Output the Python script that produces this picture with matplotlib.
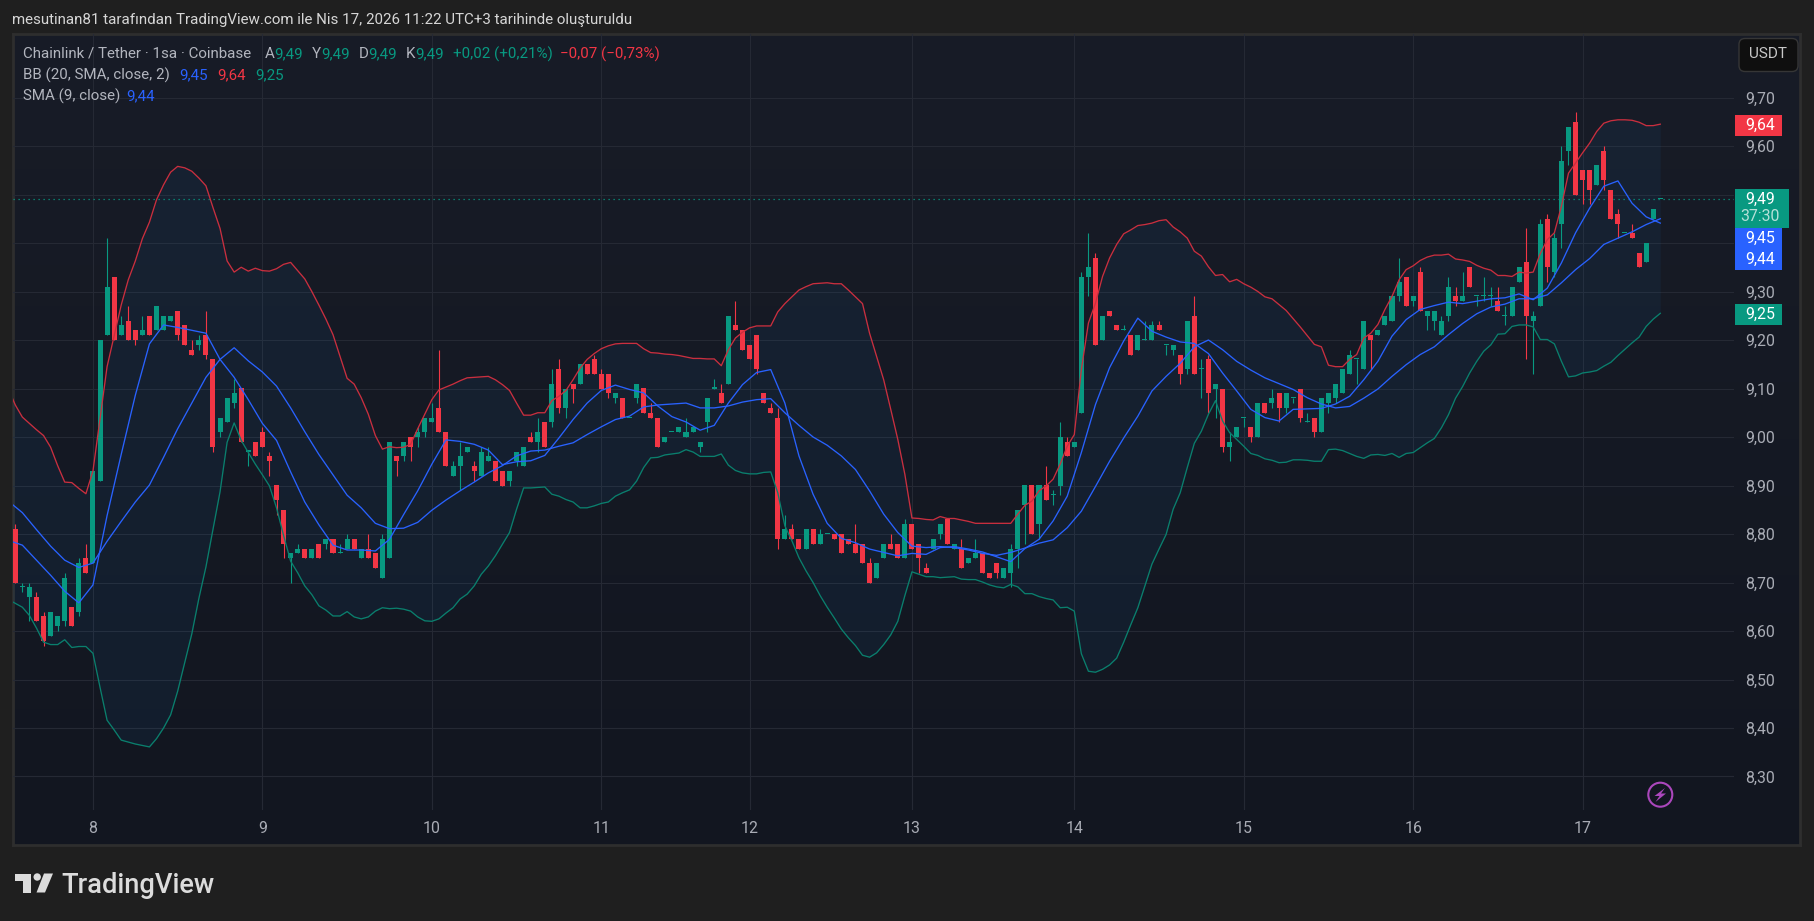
import numpy as np
from matplotlib import pyplot as plt
from matplotlib.patches import Rectangle, FancyBboxPatch, Circle, Polygon
from matplotlib.ticker import FuncFormatter

# hourly candles, LINK/USDT
opens = [8.81,8.69,8.67,8.67,8.63,8.59,8.61,8.62,8.65,8.64,
	8.75,8.74,8.91,9.21,9.33,9.21,9.24,9.22,9.21,9.25,
	9.22,9.22,9.24,9.26,9.23,9.18,9.19,9.21,9.16,9.01,
	9.03,9.07,9.10,8.97,8.99,9.01,8.96,8.90,8.85,8.75,
	8.76,8.77,8.75,8.78,8.78,8.79,8.76,8.77,8.79,8.75,
	8.77,8.76,8.71,8.75,8.96,8.96,9.00,9.00,9.01,9.03,
	9.06,9.01,8.92,8.94,8.97,8.94,8.92,8.95,8.95,8.93,
	8.91,8.95,8.94,9.00,8.99,9.03,9.03,9.14,9.06,9.11,
	9.11,9.15,9.16,9.13,9.13,9.08,9.08,9.04,9.08,9.10,
	9.05,9.04,8.99,9.01,9.01,9.00,9.01,8.98,9.03,9.10,
	9.09,9.11,9.23,9.22,9.19,9.21,9.09,9.06,9.04,8.79,
	8.81,8.79,8.77,8.81,8.78,8.80,8.80,8.80,8.79,8.78,
	8.78,8.74,8.71,8.75,8.78,8.78,8.75,8.82,8.78,8.73,
	8.77,8.80,8.83,8.77,8.77,8.74,8.75,8.76,8.72,8.74,
	8.71,8.72,8.77,8.86,8.90,8.82,8.90,8.88,8.90,8.99,
	8.98,9.05,9.33,9.37,9.20,9.26,9.23,9.22,9.21,9.18,
	9.20,9.20,9.23,9.19,9.18,9.17,9.14,9.25,9.14,9.16,
	9.10,9.10,8.98,9.00,9.04,9.02,9.00,9.07,9.07,9.09,
	9.06,9.08,9.10,9.03,9.04,9.01,9.07,9.08,9.09,9.13,
	9.16,9.14,9.21,9.21,9.23,9.24,9.29,9.33,9.28,9.34,
	9.25,9.24,9.21,9.25,9.29,9.28,9.35,9.29,9.29,9.29,
	9.28,9.25,9.25,9.32,9.36,9.24,9.27,9.45,9.34,9.44,
	9.59,9.65,9.55,9.55,9.52,9.59,9.51,9.46,9.42,9.42,
	9.38,9.36,9.45,9.49]
highs = [8.82,8.70,8.70,8.68,8.64,8.64,8.63,8.72,8.65,8.75,
	8.78,8.93,9.20,9.41,9.33,9.25,9.27,9.22,9.25,9.25,
	9.27,9.25,9.25,9.26,9.23,9.20,9.21,9.26,9.16,9.04,
	9.08,9.12,9.10,8.97,8.99,9.02,8.97,8.90,8.85,8.76,
	8.78,8.77,8.77,8.78,8.79,8.79,8.78,8.80,8.79,8.77,
	8.80,8.76,8.80,8.99,8.96,8.99,9.00,9.02,9.04,9.07,
	9.18,9.01,8.95,8.99,8.98,8.95,8.98,8.98,8.95,8.93,
	8.93,8.97,8.98,9.01,9.04,9.03,9.14,9.16,9.10,9.11,
	9.15,9.15,9.17,9.14,9.13,9.09,9.08,9.04,9.11,9.10,
	9.07,9.04,9.00,9.01,9.02,9.04,9.02,8.99,9.08,9.12,
	9.11,9.25,9.28,9.22,9.19,9.21,9.09,9.07,9.06,8.84,
	8.82,8.79,8.81,8.81,8.81,8.80,8.80,8.80,8.79,8.82,
	8.78,8.75,8.74,8.78,8.80,8.78,8.83,8.82,8.78,8.74,
	8.79,8.82,8.83,8.78,8.79,8.75,8.79,8.76,8.72,8.74,
	8.73,8.78,8.85,8.90,8.90,8.90,8.94,8.89,9.03,9.00,
	8.99,9.34,9.42,9.38,9.25,9.26,9.23,9.23,9.21,9.21,
	9.24,9.24,9.24,9.19,9.19,9.17,9.24,9.29,9.16,9.17,
	9.11,9.10,9.01,9.02,9.04,9.02,9.07,9.07,9.10,9.09,
	9.09,9.08,9.10,9.05,9.04,9.08,9.09,9.11,9.14,9.18,
	9.16,9.24,9.21,9.22,9.25,9.29,9.37,9.33,9.29,9.35,
	9.26,9.26,9.25,9.33,9.31,9.34,9.35,9.29,9.33,9.31,
	9.31,9.27,9.31,9.35,9.43,9.26,9.45,9.46,9.42,9.60,
	9.64,9.67,9.55,9.55,9.56,9.60,9.51,9.47,9.42,9.44,
	9.38,9.40,9.47,9.49]
lows = [8.70,8.68,8.62,8.62,8.57,8.59,8.60,8.61,8.61,8.63,
	8.72,8.74,8.91,9.21,9.20,9.21,9.20,9.19,9.21,9.21,
	9.22,9.22,9.24,9.20,9.19,9.17,9.18,9.16,8.97,9.00,
	9.03,9.06,8.99,8.94,8.96,8.98,8.92,8.84,8.75,8.70,
	8.76,8.75,8.75,8.75,8.77,8.76,8.76,8.77,8.77,8.75,
	8.75,8.73,8.71,8.75,8.92,8.95,8.95,8.98,9.00,9.03,
	9.01,8.94,8.92,8.89,8.97,8.91,8.92,8.95,8.91,8.90,
	8.90,8.94,8.94,8.99,8.97,8.98,9.02,9.05,9.04,9.07,
	9.11,9.13,9.13,9.10,9.08,9.07,9.04,9.04,9.07,9.05,
	9.04,8.98,8.99,9.01,9.01,9.00,9.01,8.97,9.01,9.10,
	9.07,9.11,9.22,9.18,9.16,9.13,9.07,9.05,8.77,8.79,
	8.79,8.77,8.77,8.78,8.78,8.80,8.79,8.76,8.78,8.76,
	8.74,8.70,8.71,8.75,8.77,8.75,8.75,8.77,8.72,8.72,
	8.77,8.79,8.78,8.77,8.73,8.74,8.75,8.72,8.71,8.71,
	8.71,8.69,8.73,8.78,8.80,8.79,8.87,8.86,8.88,8.96,
	8.98,9.05,9.29,9.19,9.20,9.25,9.22,9.22,9.17,9.18,
	9.20,9.20,9.22,9.17,9.17,9.11,9.13,9.13,9.08,9.05,
	9.04,8.97,8.95,9.00,9.02,8.99,9.00,9.05,9.06,9.03,
	9.05,9.07,9.03,9.03,9.00,9.01,9.05,9.07,9.09,9.13,
	9.11,9.14,9.14,9.21,9.23,9.24,9.28,9.27,9.27,9.26,
	9.22,9.22,9.21,9.24,9.27,9.28,9.31,9.27,9.28,9.27,
	9.26,9.23,9.25,9.32,9.16,9.13,9.27,9.32,9.33,9.39,
	9.56,9.50,9.48,9.48,9.52,9.51,9.45,9.41,9.42,9.41,
	9.35,9.36,9.45,9.49]
closes = [8.70,8.69,8.69,8.62,8.58,8.64,8.63,8.71,8.61,8.74,
	8.72,8.93,9.20,9.31,9.20,9.23,9.20,9.20,9.22,9.21,
	9.27,9.25,9.25,9.21,9.19,9.17,9.20,9.17,8.98,9.04,
	9.08,9.09,8.99,8.97,8.96,8.98,8.95,8.87,8.78,8.76,
	8.77,8.75,8.77,8.75,8.79,8.76,8.76,8.79,8.77,8.77,
	8.75,8.73,8.79,8.99,8.95,8.99,8.98,9.01,9.04,9.04,
	9.01,8.94,8.94,8.96,8.98,8.93,8.97,8.96,8.91,8.90,
	8.93,8.97,8.98,8.99,9.01,8.98,9.11,9.06,9.10,9.10,
	9.15,9.13,9.13,9.10,9.09,9.09,9.04,9.04,9.11,9.05,
	9.04,8.98,9.00,9.01,9.02,9.01,9.02,8.99,9.08,9.10,
	9.07,9.25,9.22,9.18,9.16,9.14,9.07,9.05,8.79,8.81,
	8.79,8.77,8.81,8.78,8.80,8.80,8.79,8.76,8.78,8.76,
	8.74,8.70,8.74,8.78,8.77,8.75,8.82,8.77,8.75,8.72,
	8.79,8.82,8.78,8.78,8.73,8.75,8.76,8.72,8.71,8.72,
	8.73,8.77,8.85,8.90,8.80,8.90,8.87,8.88,9.00,8.96,
	8.99,9.33,9.35,9.19,9.25,9.25,9.22,9.22,9.17,9.21,
	9.20,9.23,9.22,9.19,9.19,9.13,9.24,9.13,9.14,9.09,
	9.11,8.98,8.99,9.02,9.04,9.00,9.07,9.05,9.08,9.06,
	9.09,9.08,9.04,9.03,9.01,9.08,9.09,9.11,9.14,9.17,
	9.16,9.24,9.20,9.22,9.25,9.29,9.32,9.27,9.29,9.26,
	9.26,9.26,9.24,9.31,9.28,9.29,9.31,9.29,9.29,9.29,
	9.26,9.25,9.31,9.35,9.25,9.25,9.44,9.35,9.41,9.57,
	9.64,9.50,9.53,9.51,9.56,9.53,9.45,9.44,9.42,9.41,
	9.35,9.40,9.47,9.49]

# Bollinger upper / lower, one value per candle starting one candle left of the pane
bb_upper = [9.100,9.066,9.041,9.028,9.015,9.003,8.979,8.941,8.907,8.906,
	8.894,8.883,8.930,9.037,9.145,9.208,9.272,9.324,9.363,9.409,
	9.443,9.489,9.520,9.546,9.558,9.555,9.548,9.534,9.518,9.473,
	9.430,9.363,9.340,9.350,9.342,9.348,9.343,9.342,9.347,9.356,
	9.360,9.343,9.326,9.300,9.272,9.243,9.211,9.166,9.121,9.109,
	9.081,9.047,9.003,8.975,8.980,8.978,8.979,8.985,9.017,9.047,
	9.077,9.097,9.103,9.109,9.116,9.122,9.123,9.124,9.125,9.118,
	9.108,9.096,9.070,9.045,9.045,9.050,9.050,9.075,9.084,9.096,
	9.118,9.142,9.160,9.172,9.182,9.188,9.192,9.193,9.193,9.193,
	9.182,9.174,9.173,9.171,9.170,9.168,9.165,9.162,9.162,9.161,
	9.161,9.147,9.180,9.204,9.216,9.225,9.229,9.229,9.229,9.258,
	9.275,9.289,9.303,9.310,9.316,9.317,9.318,9.316,9.316,9.303,
	9.289,9.275,9.214,9.166,9.118,9.057,8.995,8.923,8.833,8.832,
	8.830,8.829,8.836,8.832,8.832,8.829,8.826,8.822,8.822,8.822,
	8.822,8.822,8.822,8.841,8.859,8.868,8.889,8.899,8.913,8.944,
	8.981,9.005,9.139,9.235,9.276,9.331,9.369,9.397,9.419,9.427,
	9.436,9.438,9.441,9.446,9.448,9.433,9.423,9.410,9.383,9.373,
	9.351,9.333,9.335,9.320,9.325,9.316,9.309,9.300,9.289,9.285,
	9.273,9.261,9.244,9.227,9.209,9.191,9.186,9.148,9.145,9.145,
	9.160,9.170,9.204,9.214,9.232,9.263,9.290,9.324,9.345,9.353,
	9.364,9.371,9.375,9.375,9.377,9.367,9.365,9.362,9.354,9.348,
	9.344,9.333,9.333,9.331,9.340,9.338,9.340,9.378,9.407,9.421,
	9.476,9.544,9.565,9.586,9.606,9.630,9.647,9.652,9.654,9.654,
	9.653,9.649,9.642,9.642,9.645]
bb_lower = [8.665,8.657,8.649,8.632,8.606,8.577,8.572,8.572,8.582,8.566,
	8.568,8.568,8.554,8.484,8.416,8.396,8.375,8.371,8.367,8.364,
	8.361,8.378,8.400,8.427,8.476,8.535,8.594,8.667,8.732,8.809,
	8.887,8.989,9.029,8.993,8.968,8.944,8.922,8.899,8.854,8.797,
	8.744,8.720,8.693,8.675,8.652,8.643,8.631,8.631,8.640,8.629,
	8.625,8.629,8.641,8.648,8.646,8.647,8.645,8.641,8.629,8.621,
	8.620,8.625,8.637,8.648,8.666,8.676,8.693,8.717,8.734,8.755,
	8.779,8.803,8.851,8.895,8.895,8.896,8.897,8.882,8.878,8.871,
	8.866,8.854,8.854,8.858,8.863,8.866,8.878,8.885,8.891,8.909,
	8.937,8.957,8.958,8.963,8.965,8.967,8.974,8.969,8.960,8.960,
	8.960,8.965,8.942,8.931,8.926,8.924,8.924,8.927,8.928,8.885,
	8.817,8.786,8.751,8.724,8.700,8.673,8.649,8.627,8.604,8.586,
	8.570,8.550,8.546,8.555,8.572,8.592,8.620,8.673,8.722,8.717,
	8.712,8.712,8.710,8.711,8.712,8.707,8.706,8.706,8.701,8.695,
	8.691,8.689,8.696,8.691,8.677,8.677,8.671,8.667,8.664,8.648,
	8.649,8.641,8.553,8.517,8.515,8.521,8.530,8.544,8.577,8.613,
	8.648,8.693,8.738,8.769,8.799,8.851,8.885,8.937,8.987,9.012,
	9.047,9.075,9.033,9.009,8.995,8.981,8.966,8.962,8.955,8.952,
	8.947,8.948,8.953,8.953,8.952,8.950,8.950,8.974,8.975,8.972,
	8.966,8.960,8.956,8.963,8.964,8.962,8.966,8.958,8.966,8.968,
	8.978,8.988,8.997,9.019,9.046,9.080,9.104,9.132,9.156,9.177,
	9.190,9.212,9.213,9.228,9.231,9.231,9.227,9.201,9.201,9.192,
	9.156,9.124,9.126,9.132,9.134,9.137,9.146,9.154,9.168,9.181,
	9.194,9.206,9.228,9.243,9.255]

# the two blue lines, read every second candle (-1, 1, 3 ... 233)
bb_basis = [8.868,8.844,8.809,8.775,8.746,8.731,8.740,8.785,8.826,8.866,
	8.901,8.958,9.017,9.070,9.123,9.160,9.184,9.157,9.134,9.105,
	9.060,9.011,8.964,8.922,8.880,8.854,8.822,8.811,8.812,8.824,
	8.849,8.870,8.889,8.907,8.926,8.941,8.961,8.971,8.973,8.981,
	8.988,9.005,9.021,9.036,9.043,9.062,9.066,9.068,9.070,9.060,
	9.060,9.064,9.072,9.077,9.079,9.050,9.024,9.000,8.983,8.961,
	8.933,8.889,8.841,8.803,8.775,8.772,8.774,8.772,8.767,8.760,
	8.756,8.762,8.771,8.781,8.788,8.813,8.847,8.898,8.950,8.998,
	9.043,9.095,9.125,9.152,9.186,9.200,9.180,9.156,9.138,9.122,
	9.110,9.098,9.081,9.068,9.060,9.063,9.080,9.099,9.125,9.149,
	9.170,9.186,9.211,9.234,9.254,9.268,9.274,9.285,9.285,9.293,
	9.318,9.345,9.368,9.397,9.410,9.423,9.438,9.450]
sma9 = [8.787,8.777,8.746,8.715,8.682,8.658,8.695,8.838,8.964,9.086,
	9.192,9.231,9.226,9.220,9.214,9.160,9.123,9.077,9.028,8.993,
	8.928,8.866,8.819,8.777,8.767,8.767,8.765,8.789,8.840,8.889,
	8.944,8.994,8.991,8.985,8.973,8.943,8.949,8.951,8.962,8.998,
	9.036,9.070,9.096,9.107,9.098,9.091,9.064,9.042,9.031,9.014,
	9.024,9.070,9.108,9.133,9.139,9.070,8.961,8.882,8.822,8.791,
	8.782,8.769,8.762,8.755,8.760,8.758,8.772,8.774,8.769,8.763,
	8.753,8.743,8.770,8.789,8.827,8.878,8.968,9.067,9.143,9.198,
	9.245,9.218,9.206,9.196,9.193,9.172,9.132,9.095,9.057,9.040,
	9.033,9.057,9.058,9.059,9.068,9.084,9.118,9.156,9.208,9.242,
	9.263,9.271,9.278,9.275,9.280,9.285,9.287,9.295,9.283,9.307,
	9.359,9.421,9.472,9.517,9.528,9.482,9.454,9.441]

day_pos = [11, 35, 59, 83, 104, 127, 150, 174, 198, 222]
day_labels = ['8', '9', '10', '11', '12', '13', '14', '15', '16', '17']
price_ticks = [8.30, 8.40, 8.50, 8.60, 8.70, 8.80, 8.90, 9.00, 9.10, 9.20, 9.30, 9.40, 9.50, 9.60, 9.70]
# 9,40 and 9,50 sit behind the price tags
hidden_ticks = [9.40, 9.50]

GREEN = '#089981'
RED = '#f23645'
BLUE = '#2962ff'
W, H = 1814, 921
FONT = 'Roboto'

plt.rcParams['font.family'] = [FONT, 'DejaVu Sans']

fig = plt.figure(figsize=(W / 100, H / 100), dpi=100, facecolor='#1f1f1f')

def px_axes(left, top, right, bottom):
	return fig.add_axes([left / W, 1 - bottom / H, (right - left) / W, (bottom - top) / H])

def price_label(v, p):
	if min(abs(v - h) for h in hidden_ticks) < 0.001:
		return ''
	return ('%.2f' % v).replace('.', ',')

# pane background with its slight vertical gradient
bg = px_axes(13, 34, 1800, 845)
grad = np.linspace(0, 1, 256).reshape(-1, 1)
c1 = np.array([0x18, 0x1c, 0x27]) / 255
c2 = np.array([0x12, 0x16, 0x20]) / 255
bg.imshow(c1 + (c2 - c1) * grad[:, :, None], aspect='auto', extent=(0, 1, 0, 1))
bg.set_xticks([])
bg.set_yticks([])
for s in bg.spines.values():
	s.set_color('#2e2e2e')
	s.set_linewidth(2)

# main price pane
ax = px_axes(13, 34, 1734, 810)
ax.patch.set_alpha(0)
ax.set_xlim((13 - 15.3) / 7.06, (1734 - 15.3) / 7.06)
ax.set_ylim(9 - (810 - 437) / 485, 9 + (437 - 34) / 485)
for s in ax.spines.values():
	s.set_visible(False)
ax.set_xticks(day_pos)
ax.set_xticklabels(day_labels)
ax.set_yticks(price_ticks)
ax.yaxis.set_major_formatter(FuncFormatter(price_label))
ax.yaxis.tick_right()
ax.tick_params(axis='both', length=0, labelsize=11.4, labelcolor='#a9acb5')
ax.tick_params(axis='y', pad=8)
ax.tick_params(axis='x', pad=8)
ax.grid(True, color='#252934', linewidth=0.8)
ax.set_axisbelow(True)

band_x = np.arange(-1, 234)
blue_x = np.arange(-1, 234, 2)
ax.fill_between(band_x, bb_upper, bb_lower, color='#2196f3', alpha=0.06, linewidth=0, zorder=1)
ax.axhline(9.49, color=GREEN, linewidth=0.9, linestyle=(0, (1, 3)), zorder=1.5)

x = np.arange(len(opens))
o = np.array(opens)
c = np.array(closes)
colors = [GREEN if c[i] >= o[i] else RED for i in range(len(o))]
ax.vlines(x, lows, highs, colors=colors, linewidth=0.8, zorder=2)
ax.bar(x, np.maximum(np.abs(c - o), 0.0022), bottom=np.minimum(o, c), width=0.71, color=colors, linewidth=0, zorder=2)

ax.plot(band_x, bb_upper, color='#c92f3f', linewidth=0.95, zorder=3)
ax.plot(band_x, bb_lower, color='#0a7f6d', linewidth=0.95, zorder=3)
ax.plot(blue_x, bb_basis, color=BLUE, linewidth=0.95, zorder=3)
ax.plot(blue_x, sma9, color=BLUE, linewidth=0.95, zorder=3)

# everything below is placed in figure pixels
top = px_axes(0, 0, W, H)
top.patch.set_alpha(0)
top.set_xlim(0, W)
top.set_ylim(H, 0)
top.axis('off')

def txt(x, y, s, color='#b2b5be', size=10.9, ha='left', **kw):
	top.text(x, y, s, color=color, fontsize=size, ha=ha, va='center', **kw)

txt(12, 20, 'mesutinan81 tarafından TradingView.com ile Nis 17, 2026 11:22 UTC+3 tarihinde oluşturuldu', color='#d6d6d6')

txt(23, 54, 'Chainlink / Tether · 1sa · Coinbase')
for lx, vx, lab in [(265, 274.5, 'A'), (312, 321, 'Y'), (359, 368, 'D'), (406, 415, 'K')]:
	txt(lx, 54, lab)
	txt(vx, 54, '9,49', color=GREEN)
txt(453, 54, '+0,02 (+0,21%)', color=GREEN)
txt(560, 54, '−0,07 (−0,73%)', color=RED)

txt(23, 75.5, 'BB (20, SMA, close, 2)')
txt(179.5, 75.5, '9,45', color=BLUE)
txt(217, 75.5, '9,64', color=RED)
txt(255, 75.5, '9,25', color=GREEN)

txt(23, 96.5, 'SMA (9, close)')
txt(126, 96.5, '9,44', color=BLUE)

# price tags on the right
for y0, y1, x1, col in [(115, 136, 1782, RED), (189, 228, 1789, GREEN), (228, 249, 1782, BLUE),
		(249, 270, 1782, BLUE), (304, 325, 1782, GREEN)]:
	top.add_patch(Rectangle((1735, y0), x1 - 1735, y1 - y0, facecolor=col, edgecolor='none', zorder=5))
for y, s in [(125, '9,64'), (199, '9,49'), (238, '9,45'), (259, '9,44'), (314, '9,25')]:
	txt(1760, y, s, color='white', size=11.4, ha='center', zorder=6)
txt(1760, 216.5, '37:30', color='#b5e0d8', size=11.4, ha='center', zorder=6)

# currency button
top.add_patch(FancyBboxPatch((1741, 40.5), 55, 29, boxstyle='round,pad=2,rounding_size=6',
	facecolor='#0f0f0f', edgecolor='#363636', linewidth=1))
txt(1768, 54.5, 'USDT', color='#c8c8c8', size=11, ha='center')

# lightning badge
top.add_patch(Circle((1660.3, 794.7), 12, facecolor='none', edgecolor='#ab47bc', linewidth=1.5))
top.add_patch(Polygon([(1665, 788), (1654.5, 796), (1659.5, 796), (1655.5, 802), (1666, 793.5), (1661, 793.5)],
	facecolor='#ab47bc', edgecolor='none'))

# TradingView logo
top.add_patch(Polygon([(15, 873.5), (31, 873.5), (31, 892.5), (23, 892.5), (23, 881), (15, 881)], facecolor='#dcdcdc', edgecolor='none'))
top.add_patch(Circle((37.2, 877), 3.7, facecolor='#dcdcdc', edgecolor='none'))
top.add_patch(Polygon([(44, 873.5), (53, 873.5), (45, 892.5), (36.5, 892.5)], facecolor='#dcdcdc', edgecolor='none'))
txt(61, 885.5, 'TradingView', color='#dcdcdc', size=19.6, fontweight='medium')

fig.savefig('out.png', dpi=100, facecolor=fig.get_facecolor())
